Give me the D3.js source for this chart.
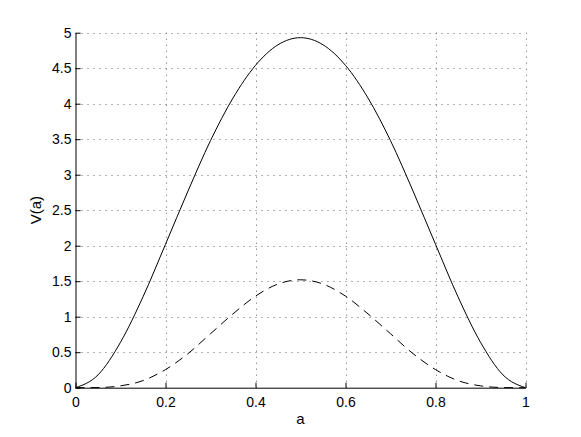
<!DOCTYPE html>
<html>
<head>
<meta charset="utf-8">
<script src="https://cdn.jsdelivr.net/npm/d3@7"></script>
<style>
  body { margin: 0; background: #fff; }
  text { font-family: "Liberation Sans", Arial, Helvetica, sans-serif; fill: #000; }
</style>
</head>
<body>
<script>
// values, a = 0 .. 1 in steps of 0.05
var aValues = [0, 0.05, 0.1, 0.15, 0.2, 0.25, 0.3, 0.35, 0.4, 0.45, 0.5,
               0.55, 0.6, 0.65, 0.7, 0.75, 0.8, 0.85, 0.9, 0.95, 1];
var solidV = [0, 0.18, 0.64, 1.28, 2.02, 2.77, 3.48, 4.08, 4.54, 4.83, 4.93,
              4.83, 4.54, 4.08, 3.48, 2.77, 2.02, 1.28, 0.64, 0.18, 0];
var dashedV = [0, 0.002, 0.026, 0.10, 0.255, 0.48, 0.76, 1.04, 1.29, 1.46, 1.52,
               1.46, 1.29, 1.04, 0.76, 0.48, 0.255, 0.10, 0.026, 0.002, 0];
var xTicks = [0, 0.2, 0.4, 0.6, 0.8, 1];
var yTicks = [0, 0.5, 1, 1.5, 2, 2.5, 3, 3.5, 4, 4.5, 5];

var width = 581, height = 437;
var plotLeft = 75.5, plotRight = 525.5, plotTop = 32.7, plotBottom = 387.7;

var svg = d3.select("body").append("svg")
    .attr("width", width)
    .attr("height", height);

var x = d3.scaleLinear().domain([0, 1]).range([plotLeft, plotRight]);
var y = d3.scaleLinear().domain([0, 5]).range([plotBottom, plotTop]);

// dotted grid
var grid = svg.append("g").attr("class", "grid")
    .attr("stroke", "#666").attr("stroke-width", 1).attr("stroke-dasharray", "1,5");
grid.selectAll("line.gx")
    .data(xTicks.filter(function(d){ return d > 0; }))
    .enter().append("line")
    .attr("class", "gx")
    .attr("x1", function(d){ return Math.round(x(d)) + 0.5; })
    .attr("x2", function(d){ return Math.round(x(d)) + 0.5; })
    .attr("y1", plotBottom).attr("y2", plotTop);
grid.selectAll("line.gy")
    .data(yTicks.filter(function(d){ return d > 0; }))
    .enter().append("line")
    .attr("class", "gy")
    .attr("y1", function(d){ return Math.round(y(d)) + 0.5; })
    .attr("y2", function(d){ return Math.round(y(d)) + 0.5; })
    .attr("x1", plotLeft).attr("x2", plotRight);

// axes, ticks pointing inward
var xAxis = d3.axisBottom(x).tickValues(xTicks).tickSizeInner(-5).tickSizeOuter(0)
    .tickPadding(9).tickFormat(d3.format("~g"));
var yAxis = d3.axisLeft(y).tickValues(yTicks).tickSizeInner(-5).tickSizeOuter(0)
    .tickPadding(4).tickFormat(d3.format("~g"));

var gx = svg.append("g").attr("transform", "translate(0," + plotBottom + ")").call(xAxis);
var gy = svg.append("g").attr("transform", "translate(" + plotLeft + ",0)").call(yAxis);

[gx, gy].forEach(function(g){
    g.attr("font-size", 14).attr("font-family", "Liberation Sans, Arial, Helvetica, sans-serif");
    g.select(".domain").attr("stroke", "#000").attr("stroke-width", 1);
    g.selectAll(".tick line").attr("stroke", "#000");
    g.selectAll(".tick text").attr("fill", "#000");
});

// curves
var curveLine = d3.line()
    .x(function(d, i){ return x(aValues[i]); })
    .y(function(d){ return y(d); })
    .curve(d3.curveMonotoneX);

svg.append("path")
    .datum(solidV)
    .attr("d", curveLine)
    .attr("fill", "none")
    .attr("stroke", "#000")
    .attr("stroke-width", 1);

svg.append("path")
    .datum(dashedV)
    .attr("d", curveLine)
    .attr("fill", "none")
    .attr("stroke", "#000")
    .attr("stroke-width", 1)
    .attr("stroke-dasharray", "9,6");

// axis labels
svg.append("text")
    .attr("x", (plotLeft + plotRight) / 2)
    .attr("y", 424)
    .attr("text-anchor", "middle")
    .attr("font-size", 15)
    .text("a");

svg.append("text")
    .attr("transform", "translate(41," + ((plotTop + plotBottom) / 2) + ") rotate(-90)")
    .attr("text-anchor", "middle")
    .attr("font-size", 15)
    .text("V(a)");
</script>
</body>
</html>
